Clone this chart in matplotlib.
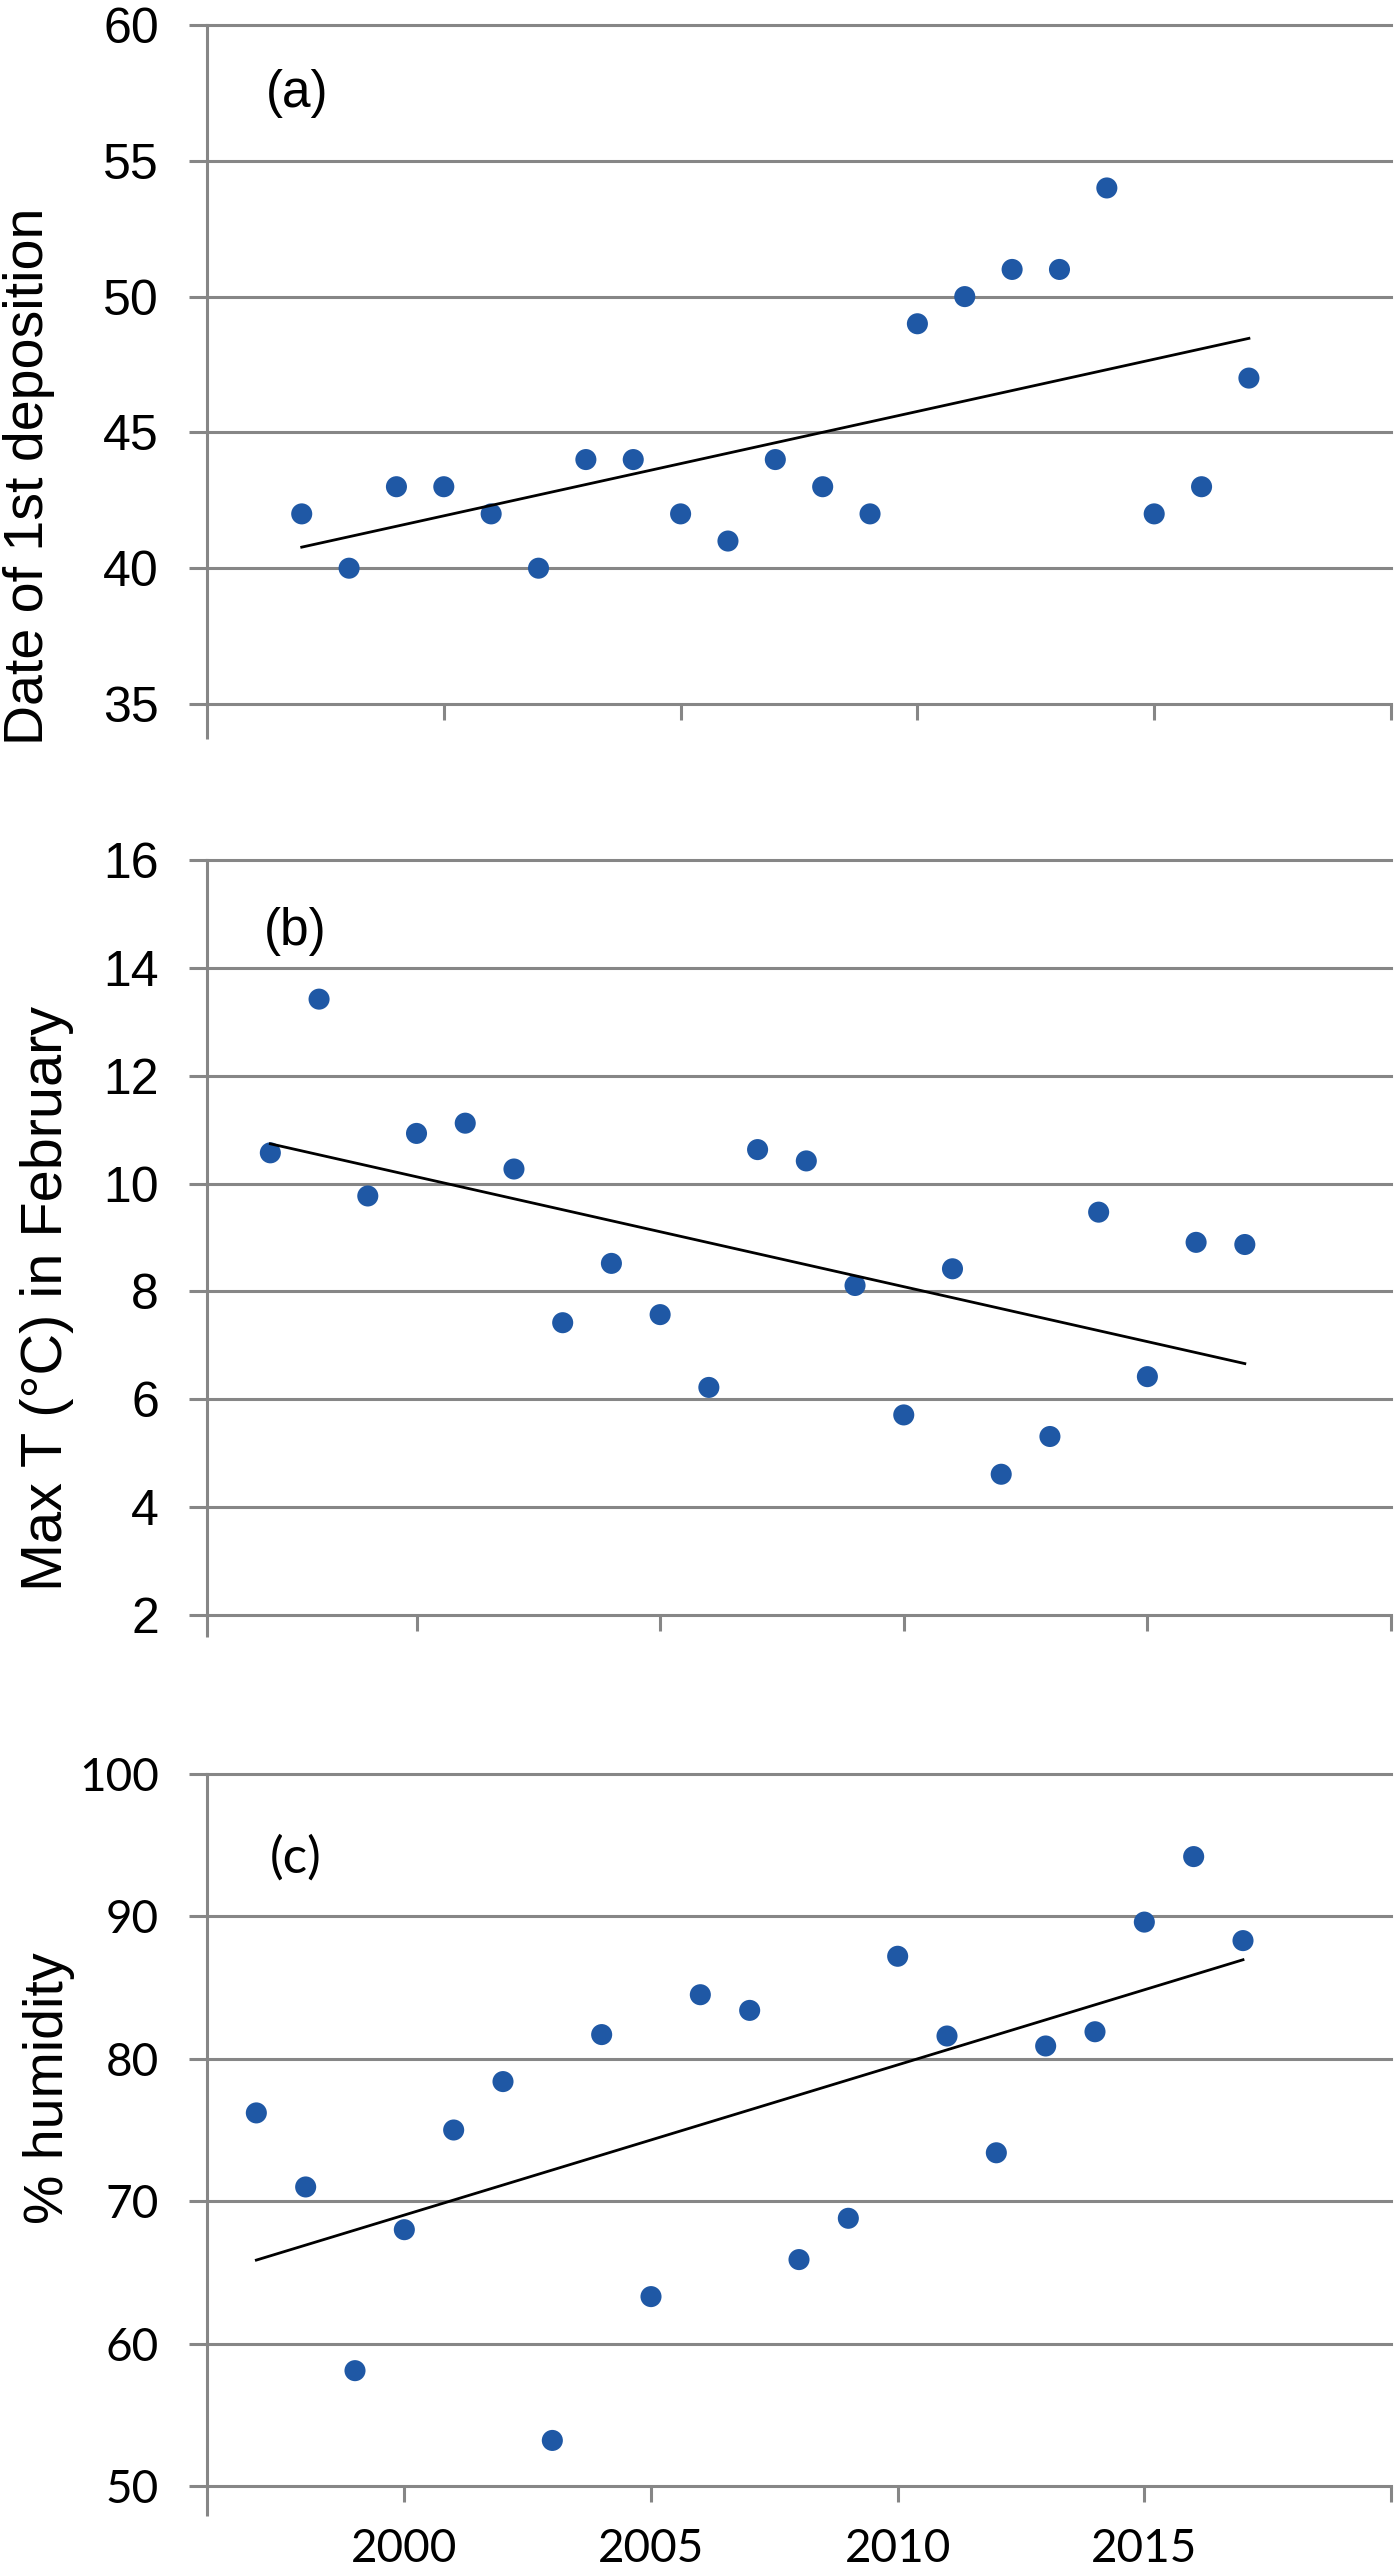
"""Three stacked Excel-style scatter panels with linear trend lines."""

import numpy as np
import matplotlib.pyplot as plt
from matplotlib.ticker import FixedLocator

# Data
years = list(range(1997, 2018))

deposition_date = [42, 40, 43, 43, 42, 40, 44, 44, 42, 41, 44,
                   43, 42, 49, 50, 51, 51, 54, 42, 43, 47]

max_temp_feb = [10.57, 13.42, 9.77, 10.93, 11.12, 10.27, 7.42, 8.52, 7.57, 6.22, 10.63,
                10.42, 8.11, 5.71, 8.42, 4.61, 5.31, 9.47, 6.42, 8.91, 8.87]

humidity = [76.2, 71.0, 58.1, 68.0, 75.0, 78.4, 53.2, 81.7, 63.3, 84.5, 83.4,
            65.9, 68.8, 87.2, 81.6, 73.4, 80.9, 81.9, 89.6, 94.2, 88.3]

xtick_years = [2000, 2005, 2010, 2015]

GRAY = '#868686'
BLUE = '#1F58A5'
PX = 0.72  # points per pixel at dpi 100

fig = plt.figure(figsize=(14, 25.73), dpi=100)
W, H = 1400, 2573


def make_axes(top, bottom, left=207, right=1391):
    return fig.add_axes([left / W, 1 - bottom / H, (right - left) / W, (bottom - top) / H])


panels = [
    dict(y=deposition_date, top=25, bottom=704, ylim=(35, 60), ystep=5,
         xlim=(1995, 2020), ext=35, label='Date of 1st deposition', lab_x=29, lab_y=476,
         lab_size=40, tag='(a)', tag_xy=(297, 93), show_x=False, font='Liberation Sans'),
    dict(y=max_temp_feb, top=860, bottom=1615, ylim=(2, 16), ystep=2,
         xlim=(1995.7, 2020), ext=22, label='Max T (°C) in February', lab_x=47, lab_y=1298,
         lab_size=41.5, tag='(b)', tag_xy=(295, 931), show_x=False, font='Liberation Sans'),
    dict(y=humidity, top=1774, bottom=2486, ylim=(50, 100), ystep=10,
         xlim=(1996, 2020), ext=30, label='% humidity', lab_x=49, lab_y=2088,
         lab_size=40, tag='(c)', tag_xy=(296, 1858), show_x=True, font='Lato'),
]

for p in panels:
    ax = make_axes(p['top'], p['bottom'])
    x = np.array(years, dtype=float)
    y = np.array(p['y'], dtype=float)

    ax.scatter(x, y, s=230, color=BLUE, edgecolors='none', zorder=3)

    # linear trend line, as Excel draws it
    slope, intercept = np.polyfit(x, y, 1)
    ax.plot([x[0], x[-1]], [slope * x[0] + intercept, slope * x[-1] + intercept],
            color='black', lw=2.0, zorder=4)

    ax.set_xlim(*p['xlim'])
    ax.set_ylim(*p['ylim'])

    yt = np.arange(p['ylim'][0], p['ylim'][1] + 0.01, p['ystep'])
    ax.set_yticks(yt)
    ax.set_yticklabels([f'{v:g}' for v in yt], fontsize=36 if not p['show_x'] else 33,
                       family=p['font'])
    ax.yaxis.grid(True, color=GRAY, lw=2.2)
    for gl in ax.get_ygridlines():
        gl.set_clip_on(False)
    ax.set_axisbelow(True)
    ax.tick_params(axis='y', direction='out', length=18 * PX, width=2.2, color=GRAY,
                   pad=30 * PX)

    xt = xtick_years + [p['xlim'][1]]
    ax.xaxis.set_major_locator(FixedLocator(xt))
    if p['show_x']:
        ax.set_xticklabels([str(v) for v in xtick_years] + [''], fontsize=33, family=p['font'])
    else:
        ax.set_xticklabels([''] * len(xt))
    ax.tick_params(axis='x', which='major', direction='out', length=16 * PX, width=2.2,
                   color=GRAY, pad=26 * PX)
    ax.xaxis.set_minor_locator(FixedLocator([p['xlim'][0]]))
    ax.tick_params(axis='x', which='minor', direction='out', length=p['ext'] * PX, width=2.2,
                   color=GRAY)

    for side in ['top', 'right', 'bottom']:
        ax.spines[side].set_visible(False)
    ax.spines['left'].set_color(GRAY)
    ax.spines['left'].set_linewidth(2.2)

    fig.text(p['lab_x'] / W, 1 - p['lab_y'] / H, p['label'], rotation=90,
             ha='center', va='center', fontsize=p['lab_size'], family='Liberation Sans')
    fig.text(p['tag_xy'][0] / W, 1 - p['tag_xy'][1] / H, p['tag'],
             ha='center', va='center', fontsize=37, family=p['font'])

fig.savefig('out.png', dpi=100)
